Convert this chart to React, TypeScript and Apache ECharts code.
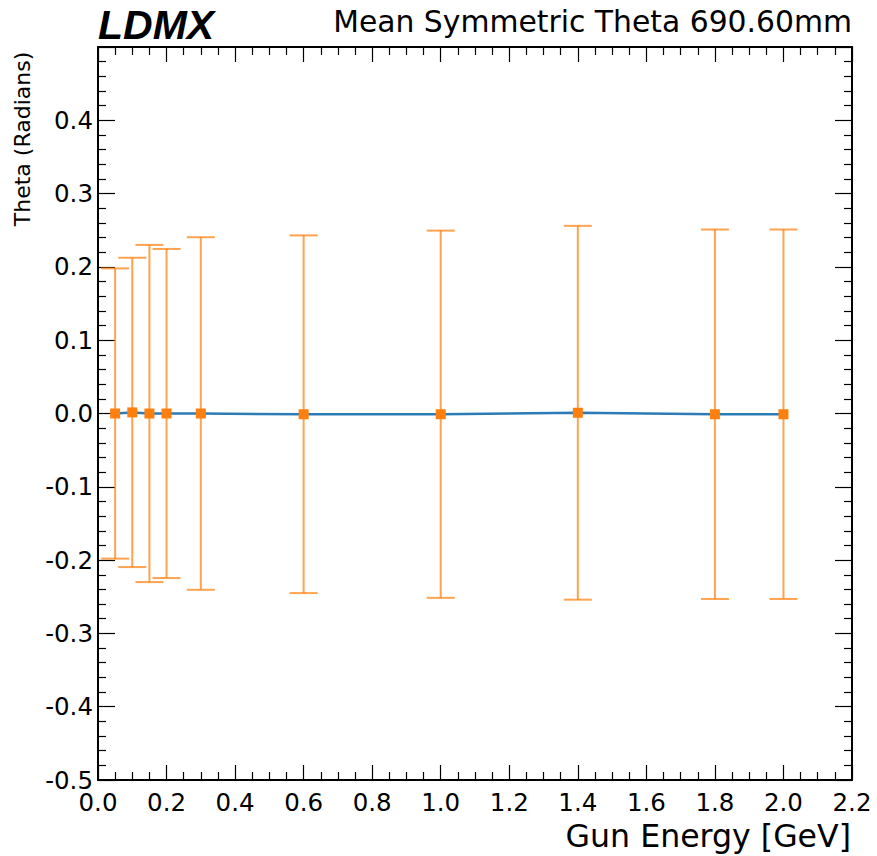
import React, { useEffect, useRef } from "react";
import * as echarts from "echarts";

const gunEnergy = [0.05, 0.1, 0.15, 0.2, 0.3, 0.6, 1.0, 1.4, 1.8, 2.0];
const meanTheta = [0.0, 0.0015, 0.0, 0.0, 0.0, -0.001, -0.001, 0.001, -0.001, -0.001];
const stdTheta = [0.198, 0.211, 0.23, 0.2245, 0.2405, 0.244, 0.2505, 0.255, 0.252, 0.252];

const titleLeft = "LDMX";
const titleRight = "Mean Symmetric Theta 690.60mm";
const xName = "Gun Energy [GeV]";
const yName = "Theta (Radians)";

const FONT = "DejaVu Sans";

export default function App() {
  const ref = useRef<HTMLDivElement>(null);
  useEffect(() => {
    if (!ref.current) return;
    const chart = echarts.init(ref.current, null, { renderer: "svg" });
    const errData = gunEnergy.map((e, i) => [e, meanTheta[i] - stdTheta[i], meanTheta[i] + stdTheta[i]]);
    const lineData = gunEnergy.map((e, i) => [e, meanTheta[i]]);
    const fmt = (v: number) => {
      if (Math.abs(v) < 1e-9) return "0.0";
      return v.toFixed(1);
    };
    const axisCommon = {
      axisLine: { show: true, onZero: false, lineStyle: { color: "#000", width: 2 } },
      splitLine: { show: false },
      minorSplitLine: { show: false },
    };
    const errColor = "rgba(255,127,14,0.72)";
    chart.setOption({
      animation: false,
      backgroundColor: "#fff",
      grid: { left: 98, right: 25, top: 47, bottom: 76, containLabel: false },
      xAxis: [
        {
          type: "value",
          position: "bottom",
          min: 0,
          max: 2.2,
          interval: 0.2,
          ...axisCommon,
          axisTick: { show: true, inside: true, length: 15, lineStyle: { color: "#000", width: 1.2 } },
          minorTick: { show: true, splitNumber: 4, length: 8, lineStyle: { color: "#000", width: 1.2 } },
          axisLabel: {
            show: true,
            margin: 10,
            fontFamily: FONT,
            fontSize: 24.5,
            lineHeight: 25,
            color: "#000",
            showMinLabel: true,
            showMaxLabel: true,
            formatter: (v: number) => fmt(v),
          },
        },
        {
          type: "value",
          position: "top",
          min: 0,
          max: 2.2,
          interval: 0.2,
          ...axisCommon,
          axisTick: { show: true, inside: true, length: 15, lineStyle: { color: "#000", width: 1.2 } },
          minorTick: { show: true, splitNumber: 4, length: 8, lineStyle: { color: "#000", width: 1.2 } },
          axisLabel: { show: false },
        },
      ],
      yAxis: [
        {
          type: "value",
          position: "left",
          min: -0.5,
          max: 0.5,
          interval: 0.1,
          ...axisCommon,
          axisTick: { show: true, inside: true, length: 17, lineStyle: { color: "#000", width: 1.2 } },
          minorTick: { show: true, splitNumber: 5, length: 8, lineStyle: { color: "#000", width: 1.2 } },
          axisLabel: {
            show: true,
            margin: 5,
            fontFamily: FONT,
            fontSize: 24.5,
            color: "#000",
            showMinLabel: true,
            showMaxLabel: true,
            formatter: (v: number) => (Math.abs(v - 0.5) < 1e-9 ? "" : fmt(v)),
          },
        },
        {
          type: "value",
          position: "right",
          min: -0.5,
          max: 0.5,
          interval: 0.1,
          ...axisCommon,
          axisTick: { show: true, inside: true, length: 17, lineStyle: { color: "#000", width: 1.2 } },
          minorTick: { show: true, splitNumber: 5, length: 8, lineStyle: { color: "#000", width: 1.2 } },
          axisLabel: { show: false },
        },
      ],
      series: [
        {
          type: "custom",
          xAxisIndex: 0,
          yAxisIndex: 0,
          z: 1,
          data: errData,
          renderItem: (params: any, api: any) => {
            const x = api.value(0);
            const lo = api.value(1);
            const hi = api.value(2);
            const p1 = api.coord([x, hi]);
            const p2 = api.coord([x, lo]);
            const w = 14;
            const style = { stroke: errColor, lineWidth: 2 };
            return {
              type: "group",
              children: [
                { type: "line", shape: { x1: p1[0], y1: p1[1], x2: p2[0], y2: p2[1] }, style },
                { type: "line", shape: { x1: p1[0] - w, y1: p1[1], x2: p1[0] + w, y2: p1[1] }, style },
                { type: "line", shape: { x1: p2[0] - w, y1: p2[1], x2: p2[0] + w, y2: p2[1] }, style },
              ],
            };
          },
        },
        {
          type: "line",
          xAxisIndex: 0,
          yAxisIndex: 0,
          z: 3,
          data: lineData,
          symbol: "rect",
          symbolSize: 10,
          showAllSymbol: true,
          lineStyle: { color: "#2c7bb6", width: 2.5 },
          itemStyle: { color: "#ff7f0e" },
        },
      ],
      graphic: [
        {
          type: "text",
          left: 98,
          top: 4,
          style: {
            text: titleLeft,
            fontFamily: "Liberation Sans",
            fontWeight: "bold",
            fontStyle: "italic",
            fontSize: 41,
            fill: "#000",
          },
        },
        {
          type: "text",
          right: 25,
          top: 6,
          style: {
            text: titleRight,
            fontFamily: FONT,
            fontSize: 29.8,
            fill: "#000",
          },
        },
        {
          type: "text",
          right: 26,
          top: 820,
          style: {
            text: xName,
            fontFamily: FONT,
            fontSize: 31.6,
            lineHeight: 32,
            fill: "#000",
          },
        },
        {
          type: "text",
          x: 22.5,
          y: 139,
          rotation: Math.PI / 2,
          style: {
            text: yName,
            fontFamily: FONT,
            fontSize: 22,
            fill: "#000",
            align: "center",
            verticalAlign: "middle",
          },
        },
      ],
    });
    return () => chart.dispose();
  }, []);
  return (
    <div
      ref={ref}
      style={{ position: "fixed", left: 0, top: 0, width: 877, height: 856, background: "#fff" }}
    />
  );
}
